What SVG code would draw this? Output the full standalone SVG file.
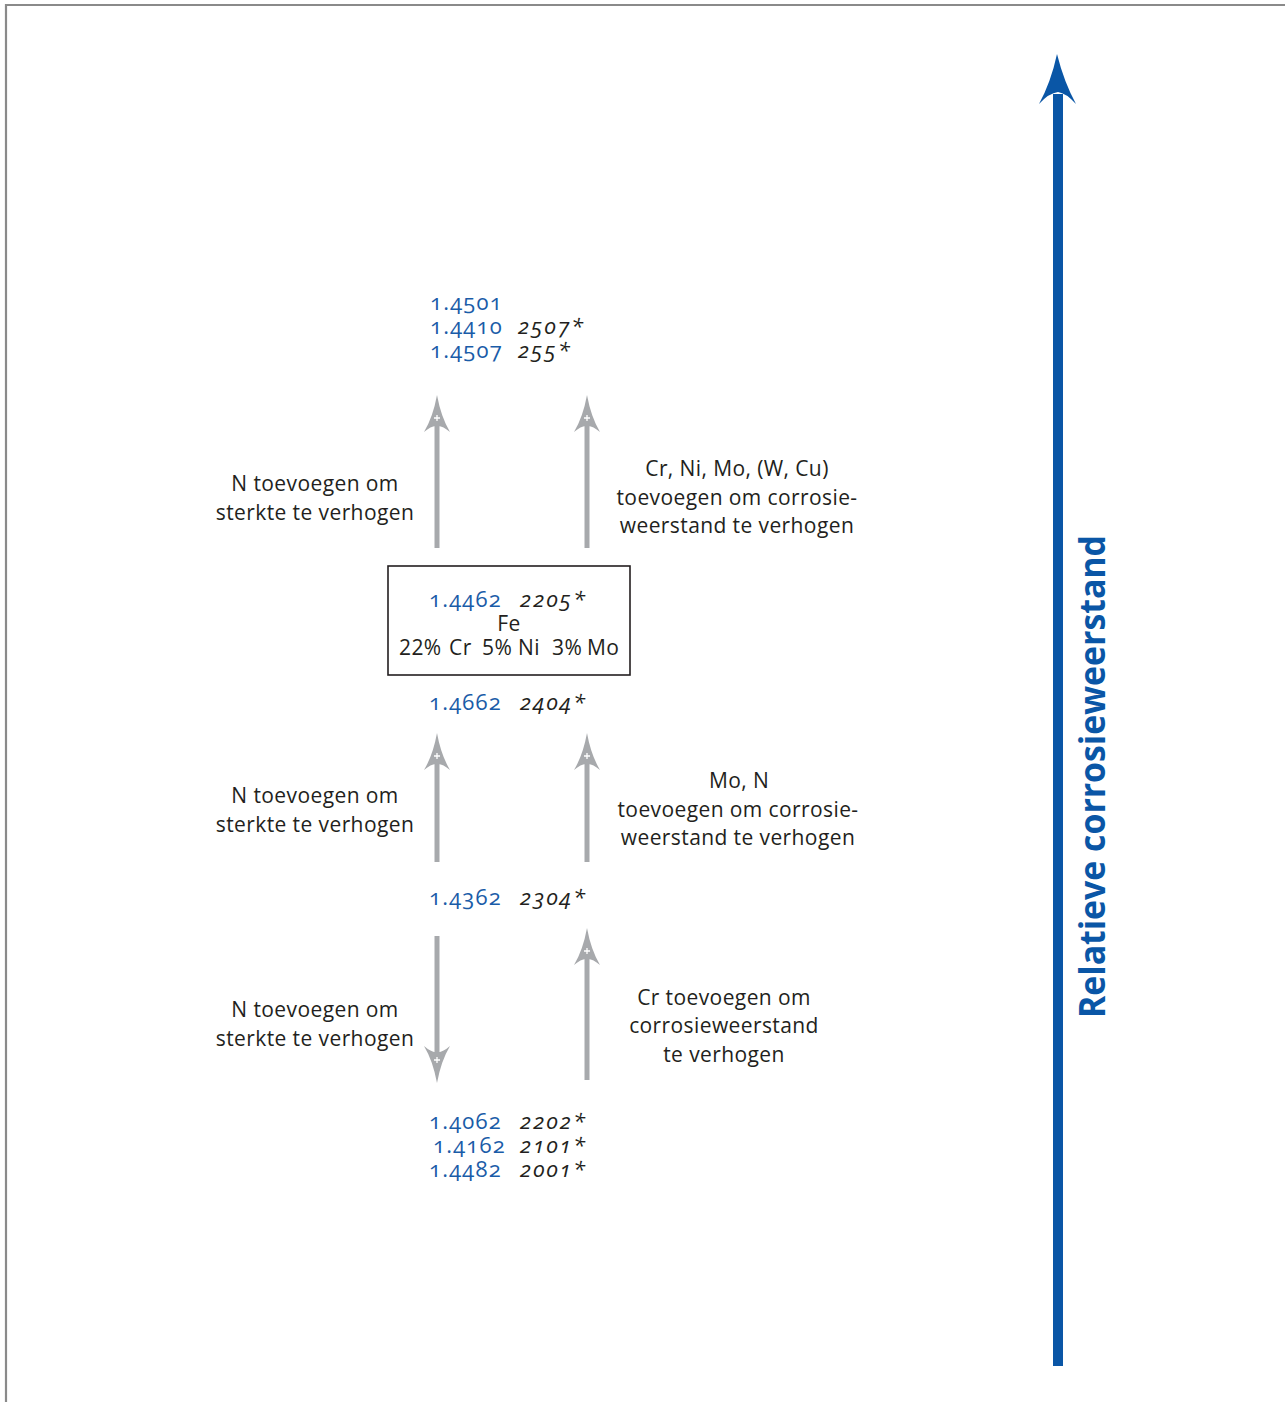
<svg xmlns="http://www.w3.org/2000/svg" xmlns:xlink="http://www.w3.org/1999/xlink" width="1285" height="1402" viewBox="0 0 1285 1402">
<style>
  text { font-family: "Open Sans", "Noto Sans", "DejaVu Sans", sans-serif; font-size: 21px; fill: #231f20; letter-spacing: 0.4px; }
  .code { fill: #1a5ca8; font-size: 22px; letter-spacing: 1.2px; font-variant-numeric: oldstyle-nums; font-feature-settings: "onum"; }
  .it { font-style: italic; font-size: 22px; letter-spacing: 2px; font-variant-numeric: oldstyle-nums; font-feature-settings: "onum"; }
  .lbl { text-anchor: middle; }
  .shaft { stroke: #a7a9ac; stroke-width: 5; fill: none; }
  .title { font-weight: bold; font-size: 36px; fill: #0a56a6; letter-spacing: 0; }
</style>
<defs>
  <g id="head">
    <path d="M0,0 Q4,22 13,37 Q5,30 0,31 Q-5,30 -13,37 Q-4,22 0,0 Z" fill="#a7a9ac"/>
    <path d="M-3,23 H3 M0,20 V26" stroke="#ffffff" stroke-width="1.3"/>
  </g>
</defs>
<rect width="1285" height="1402" fill="#ffffff"/>
<g id="frame" fill="none" stroke="#8a8a8a" stroke-width="2.2">
  <path d="M6,1402 V5 H1285"/>
</g>

<g id="connectors">
  <line class="shaft" x1="437" y1="420" x2="437" y2="548"/>
  <use xlink:href="#head" href="#head" transform="translate(437,395)"/>
  <line class="shaft" x1="587" y1="420" x2="587" y2="548"/>
  <use xlink:href="#head" href="#head" transform="translate(587,395)"/>

  <line class="shaft" x1="437" y1="760" x2="437" y2="862"/>
  <use xlink:href="#head" href="#head" transform="translate(437,733)"/>
  <line class="shaft" x1="587" y1="760" x2="587" y2="862"/>
  <use xlink:href="#head" href="#head" transform="translate(587,733)"/>

  <line class="shaft" x1="437" y1="936" x2="437" y2="1058"/>
  <use xlink:href="#head" href="#head" transform="translate(437,1083) rotate(180)"/>
  <line class="shaft" x1="587" y1="955" x2="587" y2="1080"/>
  <use xlink:href="#head" href="#head" transform="translate(587,928)"/>

  <g id="axis">
    <rect x="1053" y="94" width="10" height="1272" fill="#0a56a6"/>
    <path d="M1057,54 Q1064,82 1076,104 Q1066,93 1058,92 Q1049,93 1039,104 Q1051,82 1057,54 Z" fill="#0a56a6"/>
  </g>
</g>

<g id="node-top">
  <text class="code" x="430" y="310">1.4501</text>
  <text class="code" x="430" y="334">1.4410</text><text class="it" x="518" y="334">2507*</text>
  <text class="code" x="430" y="358">1.4507</text><text class="it" x="518" y="358">255*</text>
</g>

<g id="label-1-left">
  <text class="lbl" x="315" y="491">N toevoegen om</text>
  <text class="lbl" x="315" y="520">sterkte te verhogen</text>
</g>
<g id="label-1-right">
  <text class="lbl" x="737" y="476">Cr, Ni, Mo, (W, Cu)</text>
  <text class="lbl" x="737" y="505">toevoegen om corrosie-</text>
  <text class="lbl" x="737" y="533">weerstand te verhogen</text>
</g>

<g id="node-2205">
  <rect x="388" y="566" width="242" height="109" fill="none" stroke="#231f20" stroke-width="1.6"/>
  <text class="code" x="429" y="607">1.4462</text><text class="it" x="520" y="607">2205*</text>
  <text class="lbl" x="509" y="631">Fe</text>
  <text y="655"><tspan x="399">22%</tspan><tspan x="449">Cr</tspan><tspan x="482">5%</tspan><tspan x="518">Ni</tspan><tspan x="552">3%</tspan><tspan x="587">Mo</tspan></text>
</g>

<g id="node-2404">
  <text class="code" x="429" y="710">1.4662</text><text class="it" x="520" y="710">2404*</text>
</g>

<g id="label-2-left">
  <text class="lbl" x="315" y="803">N toevoegen om</text>
  <text class="lbl" x="315" y="832">sterkte te verhogen</text>
</g>
<g id="label-2-right">
  <text class="lbl" x="739" y="788">Mo, N</text>
  <text class="lbl" x="738" y="817">toevoegen om corrosie-</text>
  <text class="lbl" x="738" y="845">weerstand te verhogen</text>
</g>

<g id="node-2304">
  <text class="code" x="429" y="905">1.4362</text><text class="it" x="520" y="905">2304*</text>
</g>

<g id="label-3-left">
  <text class="lbl" x="315" y="1017">N toevoegen om</text>
  <text class="lbl" x="315" y="1046">sterkte te verhogen</text>
</g>
<g id="label-3-right">
  <text class="lbl" x="724" y="1005">Cr toevoegen om</text>
  <text class="lbl" x="724" y="1033">corrosieweerstand</text>
  <text class="lbl" x="724" y="1062">te verhogen</text>
</g>

<g id="node-bottom">
  <text class="code" x="429" y="1129">1.4062</text><text class="it" x="520" y="1129">2202*</text>
  <text class="code" x="433" y="1153">1.4162</text><text class="it" x="520" y="1153">2101*</text>
  <text class="code" x="429" y="1177">1.4482</text><text class="it" x="520" y="1177">2001*</text>
</g>

<g id="axis-label">
  <text class="title" transform="translate(1105,1018) rotate(-90)" x="0" y="0" textLength="483" lengthAdjust="spacingAndGlyphs">Relatieve corrosieweerstand</text>
</g>
</svg>
